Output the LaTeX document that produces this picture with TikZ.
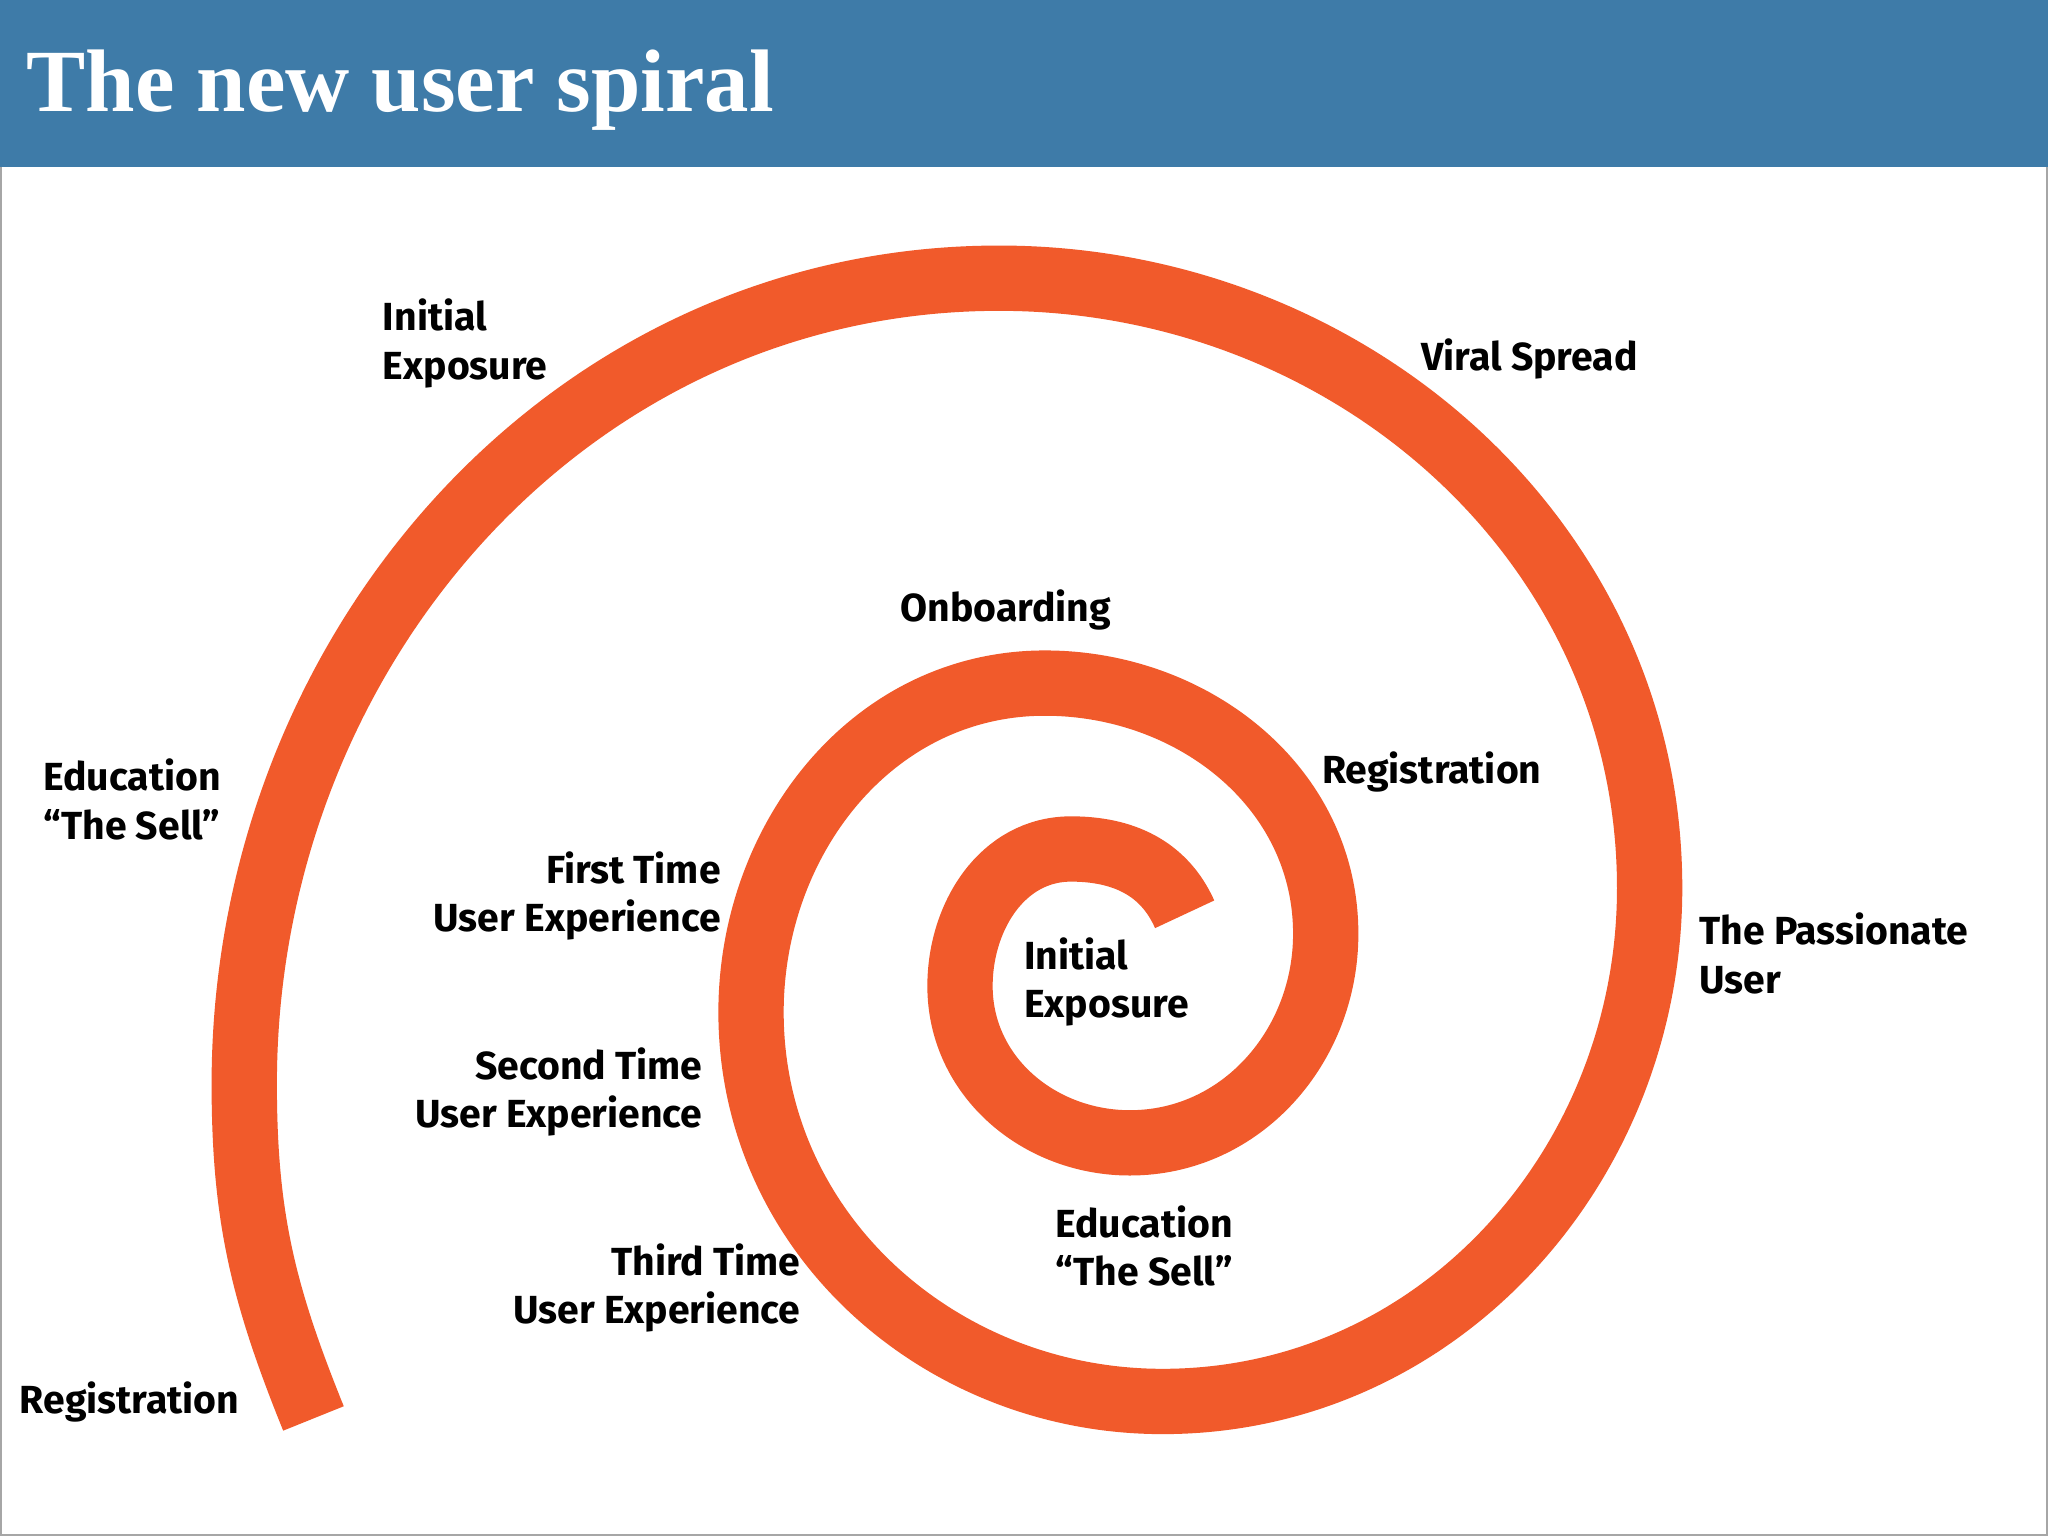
\documentclass[tikz,border=0pt]{standalone}
\usepackage{fontspec}
\setmainfont{Fira Sans}
\newfontfamily\titlefont{Liberation Serif}
\definecolor{bar}{HTML}{3E7BA8}
\definecolor{spir}{HTML}{F15A2B}
\begin{document}
\begin{tikzpicture}[x=1pt,y=1pt,
  lab/.style={font=\fontsize{30}{37}\selectfont\bfseries, inner sep=0pt}]
\useasboundingbox (0,0) rectangle (1568,1176);
\fill[white] (0,0) rectangle (1568,1176);
\draw[gray!70,line width=1.5pt] (0.75,0.75) rectangle (1567.25,1175.25);
\fill[bar] (0,1048) rectangle (1568,1176);
\node[anchor=base west,text=white,inner sep=0pt,font=\titlefont\bfseries\fontsize{68}{70}\selectfont] (title) at (20,1091) {The new user spiral};
\draw[spir,line width=50pt,line cap=butt]
 (907,476) to[out=114,in=0] (820,526)
 to[out=180,in=90] (735,421)
 to[out=270,in=180] (865,301)
 to[out=0,in=270] (1015,461)
 to[out=90,in=0] (800,653)
 to[out=180,in=90] (575,401)
 to[out=270,in=180] (890,103)
 to[out=0,in=270] (1263,496)
 to[out=90,in=0] (765,963)
 to[out=180,in=90] (187,346)
 to[out=270,in=112] (240,90);
\node[lab,anchor=west,align=left] (a) at (293,913) {Initial\\Exposure};
\node[lab,anchor=west] (b) at (1088,901) {Viral Spread};
\node[lab] (c) at (770,709) {Onboarding};
\node[lab,anchor=west] (d) at (1012,585) {Registration};
\node[lab,anchor=west,align=left] (e) at (33,564) {Education\\“The Sell”};
\node[lab,anchor=east,align=right] (f) at (552,490) {First Time\\User Experience};
\node[lab,anchor=west,align=left] (g) at (784,424) {Initial\\Exposure};
\node[lab,anchor=west,align=left] (h) at (1301,446) {The Passionate\\User};
\node[lab,anchor=east,align=right] (i) at (538,340) {Second Time\\User Experience};
\node[lab,align=center] (j) at (876,222) {Education\\“The Sell”};
\node[lab,anchor=east,align=right] (k) at (613,190) {Third Time\\User Experience};
\node[lab,anchor=west] (l) at (15,103) {Registration};
\end{tikzpicture}
\end{document}
